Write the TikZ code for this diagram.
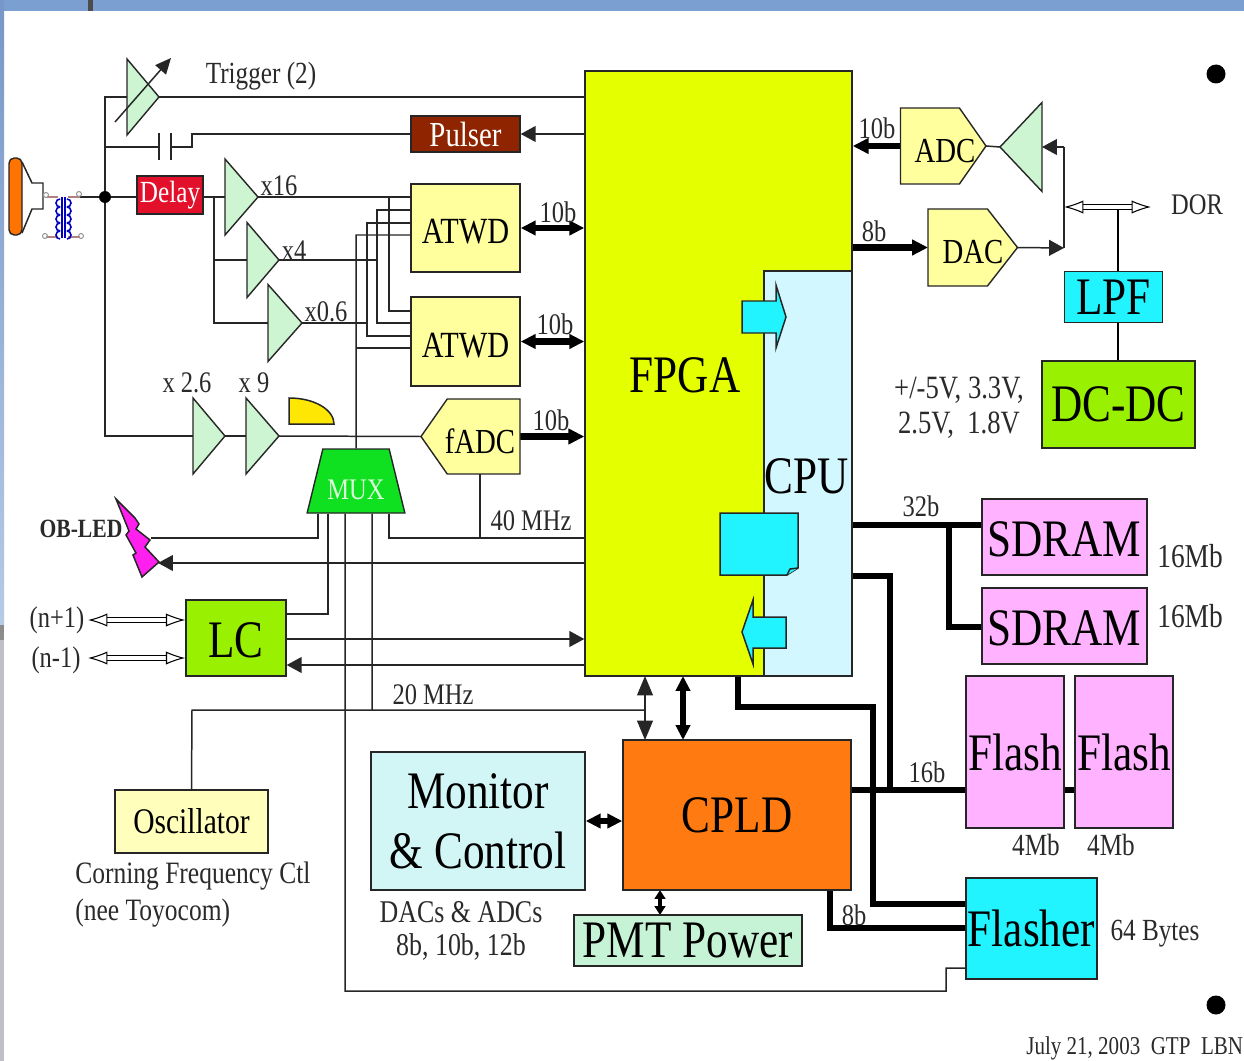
\documentclass[tikz,border=0pt]{standalone}
\usepackage{fontspec}
\setmainfont[FakeStretch=0.82]{Liberation Serif}
\usetikzlibrary{shapes.geometric,shapes.symbols,arrows.meta,calc}
\definecolor{deskblue}{HTML}{7C9FD2}
\definecolor{fpgayellow}{HTML}{E4FF00}
\definecolor{cpublue}{HTML}{D2F7FF}
\definecolor{portcyan}{HTML}{22F4FF}
\definecolor{adcyellow}{HTML}{FFFF9E}
\definecolor{ampgreen}{HTML}{CDF5D2}
\definecolor{lcgreen}{HTML}{99F000}
\definecolor{muxgreen}{HTML}{0FE01F}
\definecolor{pinkmem}{HTML}{FFB2FF}
\definecolor{cpldorange}{HTML}{FF7A10}
\definecolor{pulserred}{HTML}{8F2500}
\definecolor{delayred}{HTML}{E2102A}
\definecolor{monitorblue}{HTML}{D2F6F6}
\definecolor{pmtgreen}{HTML}{C6F3D6}
\definecolor{labelgray}{HTML}{2A2A2A}
\definecolor{ledpink}{HTML}{FF20F0}
\tikzstyle{block} = [rectangle, draw=black!85, line width=.8pt, inner sep=0pt, text centered, align=center, font=\fontsize{30}{34}\selectfont]
\tikzstyle{wire} = [line width=.85pt, black!85]
\tikzstyle{bus} = [line width=3.5pt, black]
\tikzstyle{lab} = [inner sep=0pt, text=labelgray, font=\fontsize{17}{20}\selectfont]
\tikzstyle{hollow} = [double, line width=.6pt, double distance=2.2pt, {Latex[open,fill=white,length=11pt,width=7.5pt]}-{Latex[open,fill=white,length=11pt,width=7.5pt]}]
\tikzset{
  sized/.style 2 args={minimum width=#1*.02cm, minimum height=#2*.02cm},
  amp/.style 2 args={isosceles triangle, isosceles triangle stretches, inner sep=0pt, outer sep=0pt, draw=black!85, line width=.8pt, fill=ampgreen, minimum height=#1*.02cm, minimum width=#2*.02cm},
  conv/.style 2 args={signal, signal from=nowhere, inner sep=0pt, outer sep=0pt, draw=black!85, line width=.8pt, fill=adcyellow, minimum width=#1*.02cm, minimum height=#2*.02cm},
  thin head/.style={-{Triangle[length=8.5pt,width=9pt]}},
  bus head/.style={-{Triangle[length=9pt,width=8.5pt]}},
  bus both/.style={{Triangle[length=8.5pt,width=8pt]}-{Triangle[length=8.5pt,width=8pt]}}
}
\pgfdeclarelayer{bg}
\pgfsetlayers{bg,main}
\begin{document}
\begin{tikzpicture}[x=.02cm,y=-.02cm]
    \useasboundingbox (0,0) rectangle (1244,1061);
    \fill[deskblue] (0,0) rectangle (1244,11);
    \shade[top color=deskblue!95!black, bottom color=deskblue!55] (0,0) rectangle (4,625);
    \fill[black!45] (0,625) rectangle (4,640);
    \fill[blue!12!black!25] (0,640) rectangle (4,1061);
    \fill[black!70] (88,0) rectangle (93,11);

    \node [block, sized={267}{605}, fill=fpgayellow] (fpga) at (718.5,373.5) {};
    \node [block, sized={88}{405}, fill=cpublue] (cpu) at (808,473.5) {};
    \node [font=\fontsize{30}{34}\selectfont, inner sep=0pt] (fpgalabel) at (685,375) {FPGA};
    \node [font=\fontsize{30}{34}\selectfont, inner sep=0pt] (cpulabel) at (807,476) {CPU};

    % cyan ports between fpga and cpu
    \draw [wire, fill=portcyan] (742,301) -- (776,301) -- (776,285) -- (786,317) -- (776,348) -- (776,333) -- (742,333) -- cycle;
    \draw [wire, fill=portcyan] (786,617) -- (753,617) -- (753,600) -- (742,632) -- (753,664) -- (753,648) -- (786,648) -- cycle;
    \draw [wire, fill=portcyan] (720,513) -- (798,513) -- (798,568) -- (787,575) -- (720,575) -- cycle;
    \draw [wire, fill=portcyan] (798,568) -- (790,569) -- (787,575);

    \node [block, sized={109}{36}, fill=pulserred, text=white, font=\fontsize{20}{24}\selectfont] (pulser) at (465.5,134) {Pulser};
    \node [block, sized={66}{38}, fill=delayred, text=white, font=\fontsize{17.5}{20}\selectfont] (delay) at (170,195) {Delay};
    \node [block, sized={109}{88}, fill=adcyellow, font=\fontsize{21}{24}\selectfont, text height=18pt] (atwd1) at (465.5,228) {ATWD};
    \node [block, sized={109}{89}, fill=adcyellow, font=\fontsize{21}{24}\selectfont, text height=18pt] (atwd2) at (465.5,341.5) {ATWD};
    \node [conv={99}{75}, signal to=west, signal pointer angle=110, anchor=east] (fadc) at (520,436.5) {};
    \node [conv={85.5}{76}, signal to=east, signal pointer angle=110, anchor=west] (adc) at (900.5,146) {};
    \node [conv={89.5}{77}, signal to=east, signal pointer angle=104, anchor=west] (dac) at (928,247.5) {};
    \node [lab, text=black, font=\fontsize{20}{24}\selectfont] (fadclabel) at (480,441) {fADC};
    \node [lab, text=black, font=\fontsize{20}{24}\selectfont] (adclabel) at (945,151) {ADC};
    \node [lab, text=black, font=\fontsize{20}{24}\selectfont] (daclabel) at (973,252) {DAC};

    \node [amp={32}{76}, anchor=apex] (amptrig) at (159,97) {};
    \node [amp={33}{76}, anchor=apex] (amp16) at (258,197) {};
    \node [amp={32}{75}, anchor=apex] (amp4) at (279,260) {};
    \node [amp={34}{77}, anchor=apex] (amp06) at (302,323) {};
    \node [amp={32}{76}, anchor=apex] (amp26) at (225,436) {};
    \node [amp={33}{76}, anchor=apex] (amp9) at (279,436) {};
    \node [amp={42}{89}, anchor=apex, shape border rotate=180] (ampdor) at (1000,147) {};

    \node [trapezium, trapezium angle=70, trapezium stretches, inner sep=0pt, draw=black!85, line width=.8pt, fill=muxgreen, text=green!15!white, minimum width=98*.02cm, minimum height=64*.02cm, text height=21pt, font=\fontsize{17}{20}\selectfont] (mux) at (356,481) {MUX};

    \node [block, sized={100}{76}, fill=lcgreen, text height=23pt] (lc) at (236,638) {LC};
    \node [block, sized={98}{51}, fill=portcyan] (lpf) at (1113.5,297) {LPF};
    \node [block, sized={153}{87}, fill=lcgreen] (dcdc) at (1118.5,404.5) {DC-DC};
    \node [block, sized={165}{76}, fill=pinkmem, text height=23pt] (sdram1) at (1064.5,537) {SDRAM};
    \node [block, sized={165}{76}, fill=pinkmem, text height=23pt] (sdram2) at (1064.5,626) {SDRAM};
    \node [block, sized={98}{152}, fill=pinkmem] (flash1) at (1015,752) {Flash};
    \node [block, sized={98}{152}, fill=pinkmem] (flash2) at (1124,752) {Flash};
    \node [block, sized={131}{101}, fill=portcyan] (flasher) at (1031.5,928.5) {Flasher};
    \node [block, sized={228}{150}, fill=cpldorange] (cpld) at (737,815) {CPLD};
    \node [block, sized={214}{138}, fill=monitorblue] (monitor) at (478,821) {Monitor\\\& Control};
    \node [block, sized={228}{51}, fill=pmtgreen] (pmtpower) at (688,940.5) {PMT Power};
    \node [block, sized={153}{63}, fill=adcyellow!70!white, font=\fontsize{20.5}{24}\selectfont] (osc) at (191.5,821.5) {Oscillator};

    \node [circle, fill=black, minimum size=12*.02cm, inner sep=0pt] (dot) at (105,197) {};
    \node [circle, fill=black, minimum size=19*.02cm, inner sep=0pt] (bullet1) at (1216,74) {};
    \node [circle, fill=black, minimum size=19*.02cm, inner sep=0pt] (bullet2) at (1216,1005) {};

    \coordinate (dor) at (1151,207);
    \coordinate (dorleft) at (1064,207);
    \coordinate (nplus) at (88,620);
    \coordinate (nminus) at (88,658);
    \coordinate (ledin) at (151,538);
    \coordinate (ledtip) at (158,563);
    \coordinate (railtop) at (105,97);
    \coordinate (railbot) at (105,436);
    \coordinate (capleft) at (159,147);
    \coordinate (capright) at (171,147);

    \begin{pgfonlayer}{bg} % background layer
    \fill[white] (4,11) rectangle (1244,1061);
    \draw[wire] (amptrig.lower side |- railtop) -- (railtop) -- (railbot) -- (amp26.lower side);
    \draw[wire] (amptrig.apex) -- (fpga.west |- amptrig.apex);
    \draw[wire] (railtop |- capleft) -- (capleft);
    \draw[wire] (capright) -- (192,147) -- (192,134) -- (pulser.west);
    \draw[wire] (80,197) -- (dot) -- (delay.west |- dot);
    \draw[wire] (delay.east |- dot) -- (amp16.lower side);
    \draw[wire] (214,197) -- (214,323) -- (amp06.lower side);
    \draw[wire] (214,260) -- (amp4.lower side);
    \draw[wire] (amp26.apex) -- (amp9.lower side);
    \draw[wire] (amp9.apex) -- (fadc.west);

    % signals into the two atwd
    \draw[wire] (amp16.apex) -- (atwd1.west |- amp16.apex);
    \draw[wire] (389,197) -- (389,311) -- (atwd2.west |- 389,311);
    \draw[wire] (amp4.apex) -- (377,260);
    \draw[wire] (atwd1.west |- 377,210) -- (377,210) -- (377,323) -- (atwd2.west |- 377,323);
    \draw[wire] (amp06.apex) -- (367,323);
    \draw[wire] (atwd1.west |- 367,223) -- (367,223) -- (367,336) -- (atwd2.west |- 367,336);
    \draw[wire] (atwd1.west |- 356,235) -- (356,235) -- (mux.north);
    \draw[wire] (356,348) -- (atwd2.west |- 356,348);

    % mux outputs
    \draw[wire] ($(mux.south)+(-38,0)$) |- (ledin);
    \draw[wire] ($(mux.south)+(-28,0)$) |- (lc.east |- 0,614);
    \draw[wire] ($(mux.south)+(-11,0)$) -- (345,991) -- (946,991) -- (946,968) -- (flasher.west |- 946,968);
    \draw[wire] ($(mux.south)+(16,0)$) -- (372,710);
    \draw[wire] ($(mux.south)+(33,0)$) |- (fpga.west |- 0,538);
    \draw[wire] (480,474) -- (480,538);
    \draw[wire] (osc.north) -- (192,710) -- (645,710);

    \draw[wire, thin head] (fpga.west |- ledtip) -- (ledtip);
    \draw[wire, thin head] (lc.east |- 0,639) -- (fpga.west |- 0,639);
    \draw[wire, thin head] (fpga.west |- 0,665) -- (lc.east |- 0,665);
    \draw[wire, thin head] (fpga.west |- pulser) -- (pulser.east);

    \draw[bus, bus both] (atwd1.east) -- (fpga.west |- atwd1.east);
    \draw[bus, bus both] (atwd2.east) -- (fpga.west |- atwd2.east);
    \draw[bus, bus head] (fadc.east) -- (fpga.west |- fadc.east);
    \draw[bus, bus head] (adc.west) -- (fpga.east |- adc.west);
    \draw[bus, bus head] (fpga.east |- dac.west) -- (dac.west);

    \draw[wire] (adc.east) -- (ampdor.apex);
    \draw[wire, thin head] (1064,147) -- (ampdor.lower side);
    \draw[wire] (1064,147) -- (1064,248);
    \draw[wire, thin head] (dac.east) -- (1064,248);
    \draw[line width=1.3pt] (lpf.north -| 1118,0) -- (1118,207);
    \draw[line width=1.3pt] (lpf.south -| 1118,0) -- (dcdc.north -| 1118,0);

    \draw[bus] (cpu.east |- 0,525) -- (sdram1.west |- 0,525);
    \draw[bus] (949,525) -- (949,627) -- (sdram2.west |- 0,627);
    \draw[bus] (cpu.east |- 0,576) -- (890,576) -- (890,790);
    \draw[bus] (cpld.east |- 0,790) -- (flash1.west |- 0,790);
    \draw[bus] (flash1.east |- 0,790) -- (flash2.west |- 0,790);
    \draw[bus] (738,676) -- (738,707) -- (873,707) -- (873,904) -- (flasher.west |- 0,904);
    \draw[bus] (830,890) -- (830,928) -- (flasher.west |- 0,928);

    \draw[wire, {Triangle[length=11pt,width=9pt]}-{Triangle[length=11pt,width=9pt]}] (645,676) -- (645,740);
    \draw[bus, bus both] (683,676) -- (683,740);
    \draw[bus, bus both] (monitor.east |- 0,821) -- (cpld.west |- 0,821);
    \draw[line width=2.6pt, {Triangle[length=5pt,width=6pt]}-{Triangle[length=5pt,width=6pt]}] (660,890) -- (660,915);
    \end{pgfonlayer}

    \draw[hollow] (nplus) -- (lc.west |- nplus);
    \draw[hollow] (nminus) -- (lc.west |- nminus);
    \draw[hollow] (dorleft) -- (dor);

    % variable gain arrow, capacitor, phototube, transformer
    \draw[wire, -{Triangle[length=9pt,width=8pt]}] (115,122) -- (171,58);
    \draw[wire] (capleft |- 0,133) -- (capleft |- 0,160);
    \draw[wire] (capright |- 0,133) -- (capright |- 0,160);
    \draw[wire] (22,162) -- (32,183) -- (43,183) -- (43,209) -- (32,209) -- (22,233);
    \node [rectangle, rounded corners=3pt, draw=black!85, line width=.8pt, fill=orange!90!red, minimum width=13*.02cm, minimum height=77*.02cm, inner sep=0pt] (pmt) at (15.5,196.5) {};
    \draw[red!40!black!50, line width=.6pt] (47,197) -- (58,197) (68,197) -- (80,197) (46,237) -- (58,237) (68,237) -- (80,237);
    \foreach \termx/\termy in {46/195,79/194,45/236,81/236} {
        \draw[black!40, line width=.6pt] (\termx,\termy) circle (2.5*.02cm);
    }
    \foreach \ypos in {199,207,215,223,231} {
        \draw[blue!75!black, line width=.9pt] (60,\ypos) arc (90:270:4*.02cm);
        \draw[blue!75!black, line width=.9pt] (67,\ypos) arc (90:-90:4*.02cm);
    }
    \draw[blue!75!black, line width=.8pt] (62,197) -- (62,238) (65,197) -- (65,238);

    % led and dome
    \draw[wire, fill=ledpink] (116,499) -- (135,518) -- (139,524) -- (136,529) -- (150,540) -- (145,547) -- (159,562) -- (142,577) -- (133,555) -- (136,553) -- (126,535) -- (129,531) -- cycle;
    \draw[wire, fill=yellow!90!orange] (289,398) .. controls (315,398) and (334,410) .. (334,424) -- (289,424) -- cycle;

    % labels
    \node [lab, font=\fontsize{17.5}{20}\selectfont] (triggerlabel) at (261,76) {Trigger (2)};
    \node [lab] (x16label) at (279,186) {x16};
    \node [lab] (x4label) at (294,251) {x4};
    \node [lab] (x06label) at (326,312) {x0.6};
    \node [lab] (x26label) at (187,383) {x 2.6};
    \node [lab] (x9label) at (254,383) {x 9};
    \node [lab] (bits1) at (558,212) {10b};
    \node [lab] (bits2) at (555,324) {10b};
    \node [lab] (bits3) at (551,420) {10b};
    \node [lab] (bits4) at (877,128) {10b};
    \node [lab] (bits5) at (874,231) {8b};
    \node [lab] (bits6) at (921,506) {32b};
    \node [lab] (bits7) at (927,772) {16b};
    \node [lab] (bits8) at (854,915) {8b};
    \node [lab] (clock40) at (531,521) {40 MHz};
    \node [lab] (clock20) at (433,695) {20 MHz};
    \node [lab, font=\bfseries\fontsize{15}{18}\selectfont] (ledlabel) at (81,529) {OB-LED};
    \node [lab] (nplustext) at (57,620) {(n+1)};
    \node [lab] (nminustext) at (56,660) {(n-1)};
    \node [lab] (dortext) at (1197,205) {DOR};
    \node [lab, align=center, font=\fontsize{18.5}{20}\selectfont] (volts) at (959,407.5) {+/-5V, 3.3V,\\2.5V,\ \ 1.8V};
    \node [lab, font=\fontsize{19}{22}\selectfont] (size1) at (1190,556) {16Mb};
    \node [lab, font=\fontsize{19}{22}\selectfont] (size2) at (1190,616) {16Mb};
    \node [lab, font=\fontsize{17.5}{20}\selectfont] (size3) at (1036,845) {4Mb};
    \node [lab, font=\fontsize{17.5}{20}\selectfont] (size4) at (1111,845) {4Mb};
    \node [lab, font=\fontsize{17.5}{20}\selectfont] (size5) at (1155,934) {64 Bytes};
    \node [lab, align=center, font=\fontsize{18}{18.7}\selectfont] (adcnote) at (461,930.5) {DACs \& ADCs\\8b, 10b, 12b};
    \node [lab, align=left, anchor=west, font=\fontsize{17.7}{21}\selectfont] (oscnote) at (75,894.5) {Corning Frequency Ctl\\(nee Toyocom)};
    \node [lab, anchor=west, font=\fontsize{14.6}{18}\selectfont] (datelabel) at (1026,1048) {July 21, 2003\ \ GTP\ \ LBN};
\end{tikzpicture}
\end{document}
